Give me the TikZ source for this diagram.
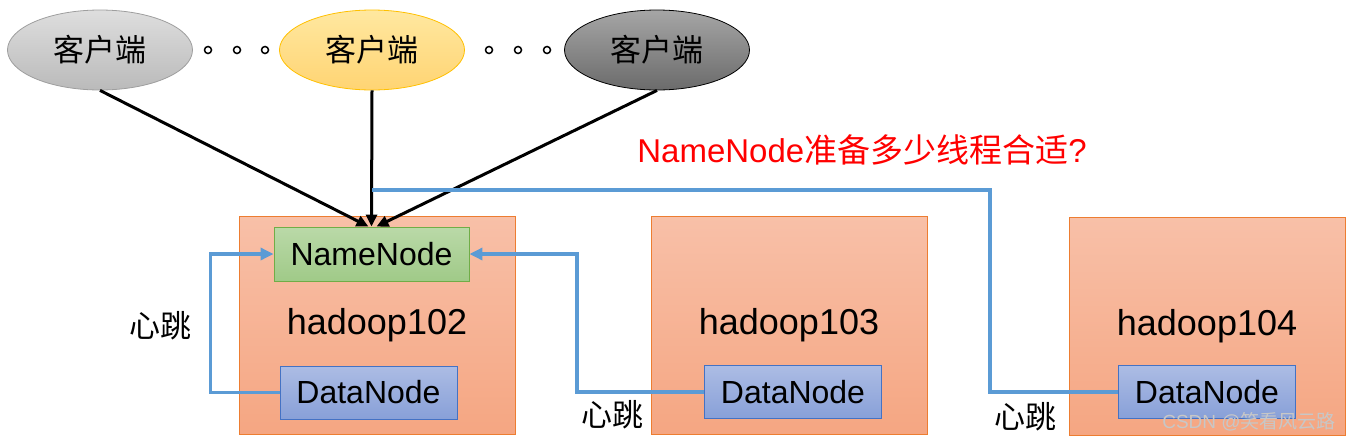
\documentclass[tikz,border=0pt]{standalone}
\usepackage{fontspec}
\setmainfont{Liberation Sans}
\newfontfamily\cjk{Noto Sans CJK SC}
\usetikzlibrary{
  arrows.meta,
  positioning,
  shapes.geometric,
}
\definecolor{hosttop}{RGB}{248, 192, 168}
\definecolor{hostbottom}{RGB}{245, 166, 130}
\definecolor{hostedge}{RGB}{237, 125, 49}
\definecolor{nntop}{RGB}{186, 217, 168}
\definecolor{nnbottom}{RGB}{160, 202, 136}
\definecolor{nnedge}{RGB}{112, 173, 71}
\definecolor{dntop}{RGB}{172, 188, 228}
\definecolor{dnbottom}{RGB}{136, 160, 216}
\definecolor{dnedge}{RGB}{68, 114, 196}
\definecolor{beat}{RGB}{91, 155, 213}
\tikzstyle{client} = [
  ellipse,
  minimum width=185pt,
  minimum height=80pt,
  inner sep=0pt,
  line width=0.8pt,
  font=\fontsize{31}{36}\selectfont\cjk,
]
\tikzstyle{host} = [
  rectangle,
  minimum width=276pt,
  minimum height=218pt,
  top color=hosttop,
  bottom color=hostbottom,
  draw=hostedge,
  line width=0.9pt,
  font=\fontsize{36}{40}\selectfont,
]
\tikzstyle{namenode} = [
  rectangle,
  minimum width=195pt,
  minimum height=54pt,
  top color=nntop,
  bottom color=nnbottom,
  draw=nnedge,
  line width=0.9pt,
  font=\fontsize{32}{36}\selectfont,
]
\tikzstyle{datanode} = [
  rectangle,
  minimum width=177pt,
  minimum height=53pt,
  top color=dntop,
  bottom color=dnbottom,
  draw=dnedge,
  line width=0.9pt,
  font=\fontsize{32}{36}\selectfont,
]
\tikzstyle{request} = [
  -{Triangle[length=12pt,width=11pt]},
  line width=3pt,
  black,
]
\tikzstyle{heartbeat} = [
  line width=3.2pt,
  beat,
]
\tikzstyle{beatlabel} = [
  font=\fontsize{31}{36}\selectfont\cjk,
]

\begin{document}
\begin{tikzpicture}[x=1pt, y=-1pt]

        \useasboundingbox (0,0) rectangle (1351,442);

        % Clients
        \node [client, top color=black!13, bottom color=black!27, draw=black!38] (client1) at (100,50) {客户端};
        \node [client, top color={rgb,255:red,255;green,232;blue,160}, bottom color={rgb,255:red,255;green,212;blue,115}, draw={rgb,255:red,255;green,192;blue,0}] (client2) at (372,50) {客户端};
        \node [client, top color=black!35, bottom color=black!58, draw=black] (client3) at (657,50) {客户端};

        \foreach \x in {208, 237, 265, 489, 518, 547} {
          \draw [line width=1.5pt] (\x, 50) circle (3.5pt);
        }

        % Hosts
        \node [host] (host102) at (377,325) {hadoop102};
        \node [host] (host103) at (789,325) {hadoop103};
        \node [host] (host104) at (1207,326) {hadoop104};

        \node [namenode] (nn) at (371.5,254) {NameNode};

        \node [datanode] (dn102) at (368.5,392.5) {DataNode};
        \node [datanode] (dn103) at (793,392) {DataNode};
        \node [datanode] (dn104) at (1207,392) {DataNode};

        % Requests
        \draw [request] (client1.south) -- ([xshift=-3pt]nn.north);
        \draw [request] (client2.south) -- (nn.north);
        \draw [request] (client3.south) -- ([xshift=5pt]nn.north);

        % Heartbeats
        \coordinate (join) at (372,190);

        \draw [heartbeat, -{Triangle[length=13pt,width=12pt]}]
              (dn102.west) -- ++(-69,0) |- (nn.west);

        \draw [heartbeat, -{Triangle[length=13pt,width=12pt]}]
              (dn103.west) -- ++(-127,0) |- (nn.east);

        \draw [heartbeat]
              (dn104.west) -- ++(-128,0) |- (join);

        \node [beatlabel] (beat102) at (160,326) {心跳};
        \node [beatlabel] (beat103) at (612,415) {心跳};
        \node [beatlabel] (beat104) at (1025,417) {心跳};

        \node [text=red, font=\fontsize{33}{38}\selectfont] (question) at (862,150) {NameNode{\cjk 准备多少线程合适}?};

        \node [text=black!22, font=\fontsize{19}{22}\selectfont] (mark) at (1249,422) {CSDN @{\cjk 笑看风云路}};
      \end{tikzpicture}
\end{document}
